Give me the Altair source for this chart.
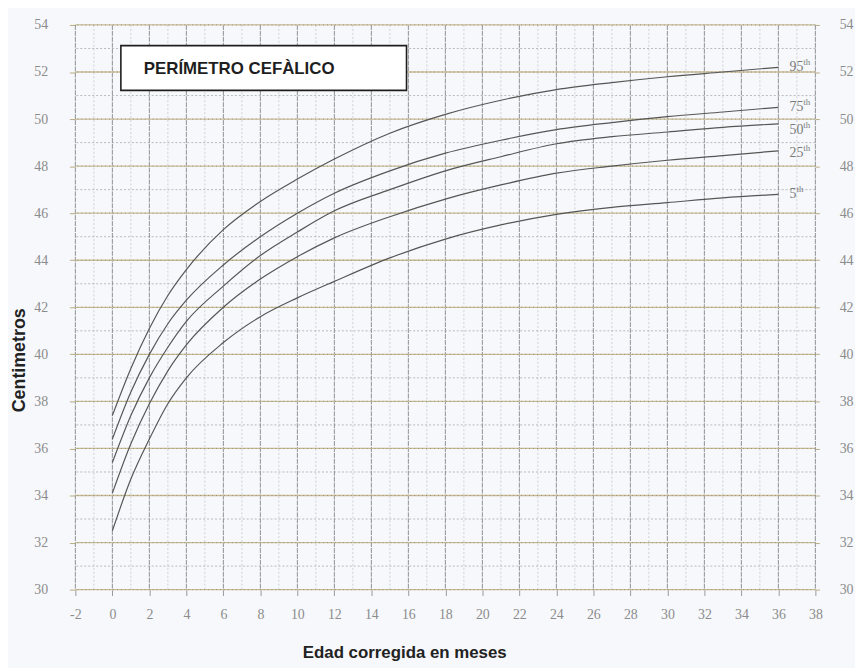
import altair as alt
import pandas as pd

# ---- data ----
months = [0, 1, 2, 3, 4, 6, 8, 10, 12, 15, 18, 21, 24, 27, 30, 33, 36]
p5 = [32.5, 34.7, 36.4, 37.9, 39.0, 40.5, 41.6, 42.4, 43.1, 44.1, 44.9, 45.5, 45.95, 46.25, 46.45, 46.65, 46.8]
p25 = [34.1, 36.2, 37.9, 39.3, 40.4, 42.0, 43.2, 44.15, 44.95, 45.85, 46.6, 47.2, 47.7, 48.0, 48.25, 48.45, 48.65]
p50 = [35.4, 37.4, 39.0, 40.3, 41.4, 42.9, 44.2, 45.2, 46.1, 47.0, 47.8, 48.4, 48.95, 49.25, 49.45, 49.65, 49.8]
p75 = [36.4, 38.4, 40.0, 41.3, 42.3, 43.8, 45.0, 46.0, 46.85, 47.8, 48.55, 49.1, 49.55, 49.85, 50.1, 50.3, 50.5]
p95 = [37.4, 39.4, 41.1, 42.5, 43.6, 45.3, 46.5, 47.45, 48.3, 49.4, 50.2, 50.8, 51.25, 51.55, 51.8, 52.0, 52.2]
percentiles = ["5", "25", "50", "75", "95"]
label_x = [36.6, 36.6, 36.6, 36.6, 36.6]
label_y = [46.8, 48.55, 49.55, 50.5, 52.2]

x_ticks = list(range(-2, 39, 2))
x_minor = list(range(-1, 38, 2))
y_ticks = list(range(30, 55, 2))
y_minor = list(range(31, 54, 2))

title_text = ["PERÍMETRO CEFÀLICO"]
box_x, box_x2, box_y, box_y2 = [0.46], [15.9], [53.12], [51.22]
title_x, title_y = [1.7], [52.12]

# ---- tables ----
rows = []
for name, vals in zip(percentiles, [p5, p25, p50, p75, p95]):
    for m, v in zip(months, vals):
        rows.append({"mes": m, "cm": v, "pct": name})
df = pd.DataFrame(rows)
labels = pd.DataFrame({"pct": percentiles, "x": label_x, "y": label_y,
                       "digits": [len(p) for p in percentiles], "sup": ["th"] * 5})
box = pd.DataFrame({"x": box_x, "x2": box_x2, "y": box_y, "y2": box_y2})
tdf = pd.DataFrame({"x": title_x, "y": title_y, "t": title_text})

xs = alt.Scale(domain=[-2, 38], nice=False, zero=False)
ys = alt.Scale(domain=[30, 54], nice=False, zero=False)

LABEL_FONT = "Liberation Serif"
LABEL_COLOR = "#8c8c8c"

x_axis = alt.Axis(values=x_ticks, title="Edad corregida en meses", titleFont="Liberation Sans",
                  titleFontWeight="bold", titleFontSize=17, titleColor="#222222",
                  titleX=332, titleY=64, titleAlign="center", titleBaseline="middle",
                  labelExpr="'' + datum.value",
                  labelFont=LABEL_FONT, labelFontSize=14, labelColor=LABEL_COLOR,
                  labelPadding=12, tickSize=6, tickColor="#9a9a9a", domain=False,
                  grid=False, labelFlush=False, labelOverlap=False)
y_axis_left = alt.Axis(values=y_ticks, title="Centimetros", titleFont="Liberation Sans",
                       titleFontWeight="bold", titleFontSize=18, titleColor="#222222",
                       titleX=-56, titleY=338, titleAngle=-90, titleAlign="center",
                       titleBaseline="middle", labelFont=LABEL_FONT, labelFontSize=14,
                       labelColor=LABEL_COLOR, labelPadding=22, tickSize=6,
                       tickColor="#b8ab80", domain=False, grid=False, labelFlush=False,
                       labelOverlap=False)
y_axis_right = alt.Axis(values=y_ticks, title=None, orient="right",
                        labelFont=LABEL_FONT, labelFontSize=14, labelColor=LABEL_COLOR,
                        labelPadding=20, tickSize=4, tickColor="#b8ab80", domain=False,
                        grid=False, labelFlush=False, labelOverlap=False)

h_minor = alt.Chart(pd.DataFrame({"y": y_minor})).mark_rule(
    color="#a9a9a9", strokeWidth=0.8, strokeDash=[2, 2]
).encode(y=alt.Y("y:Q", scale=ys, axis=None))

v_minor = alt.Chart(pd.DataFrame({"x": x_minor})).mark_rule(
    color="#c4c7cc", strokeWidth=0.8, strokeDash=[2, 2]
).encode(x=alt.X("x:Q", scale=xs, axis=None))

v_major = alt.Chart(pd.DataFrame({"x": x_ticks})).mark_rule(
    color="#8f9194", strokeWidth=1.0, strokeDash=[5, 1]
).encode(x=alt.X("x:Q", scale=xs, axis=x_axis))

h_major = alt.Chart(pd.DataFrame({"y": y_ticks})).mark_rule(
    color="#c9bd92", strokeWidth=1.3
).encode(y=alt.Y("y:Q", scale=ys, axis=y_axis_right))

h_major_dots = alt.Chart(pd.DataFrame({"y": y_ticks})).mark_rule(
    color="#7d7d7d", strokeWidth=0.7, strokeDash=[1, 3]
).encode(y=alt.Y("y:Q", scale=ys, axis=y_axis_left))

curves = alt.Chart(df).mark_line(
    interpolate="monotone", color="#565656", strokeWidth=1.2
).encode(
    x=alt.X("mes:Q", scale=xs, axis=None),
    y=alt.Y("cm:Q", scale=ys, axis=None),
    detail="pct:N",
)

num_labels = alt.Chart(labels).mark_text(
    align="left", baseline="middle", font=LABEL_FONT, fontSize=14, color="#7a7a7a"
).encode(x=alt.X("x:Q", scale=xs, axis=None), y=alt.Y("y:Q", scale=ys, axis=None), text="pct:N")

sup2 = alt.Chart(labels).transform_filter("datum.digits == 2").mark_text(
    align="left", baseline="middle", font=LABEL_FONT, fontSize=9, color="#7a7a7a", dx=14, dy=-5
).encode(x=alt.X("x:Q", scale=xs, axis=None), y=alt.Y("y:Q", scale=ys, axis=None), text="sup:N")

sup1 = alt.Chart(labels).transform_filter("datum.digits == 1").mark_text(
    align="left", baseline="middle", font=LABEL_FONT, fontSize=9, color="#7a7a7a", dx=7, dy=-5
).encode(x=alt.X("x:Q", scale=xs, axis=None), y=alt.Y("y:Q", scale=ys, axis=None), text="sup:N")

title_box = alt.Chart(box).mark_rect(
    fill="#ffffff", stroke="#1e1e1e", strokeWidth=1.6
).encode(
    x=alt.X("x:Q", scale=xs, axis=None), x2="x2:Q",
    y=alt.Y("y:Q", scale=ys, axis=None), y2="y2:Q",
)

title_txt = alt.Chart(tdf).mark_text(
    align="left", baseline="middle", font="Liberation Sans", fontWeight="bold",
    fontSize=17, color="#1e1e1e"
).encode(x=alt.X("x:Q", scale=xs, axis=None), y=alt.Y("y:Q", scale=ys, axis=None), text="t:N")

chart = alt.layer(
    v_minor, h_minor, v_major, h_major, h_major_dots, curves,
    num_labels, sup2, sup1, title_box, title_txt
).resolve_axis(x="independent", y="independent").properties(
    width=747, height=570,
    autosize=alt.AutoSizeParams(type="none"),
    padding={"left": 68, "top": 14, "right": 40, "bottom": 76},
    background="#f6f8fb",
).configure_view(stroke=None)

chart.save("out.html", embed_options={"renderer": "svg", "actions": False})
